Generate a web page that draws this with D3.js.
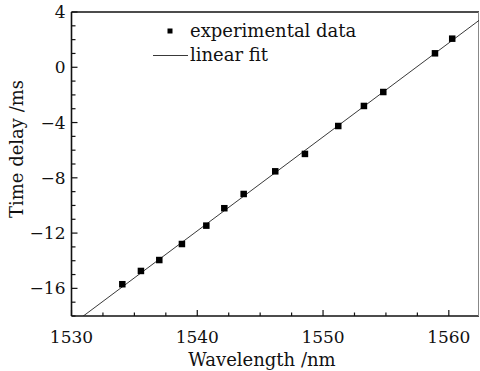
<!DOCTYPE html>
<html>
<head>
<meta charset="utf-8">
<script src="https://cdn.jsdelivr.net/npm/d3@7"></script>
<style>
  html, body { margin: 0; padding: 0; background: #fff; }
  svg { display: block; font-family: "DejaVu Serif", serif; }
  .tick-label { font-size: 17px; fill: #111; }
  .axis-title { font-size: 18px; fill: #111; }
  .legend-text { font-size: 18px; fill: #111; }
</style>
</head>
<body>
<div id="chart"></div>
<script>
// ----------------------------------------------------------
// Data
// ----------------------------------------------------------
const wavelengths = [1534.04, 1535.52, 1536.98, 1538.78, 1540.72, 1542.15, 1543.69,
  1546.20, 1548.56, 1551.21, 1553.25, 1554.79, 1558.90, 1560.27];
const delays = [-15.70, -14.74, -13.95, -12.79, -11.46, -10.20, -9.17,
  -7.53, -6.27, -4.25, -2.80, -1.79, 1.01, 2.07];

// linear fit: delay = fitSlope * (wavelength - 1530) + fitOffset
const fitSlope = 0.68;
const fitOffset = -18.64;

const xTicks = [1530, 1540, 1550, 1560];
const yTicks = [-16, -12, -8, -4, 0, 4];
const xDomain = [1530, 1562.4];
const yDomain = [-18, 4];

// ----------------------------------------------------------
// Layout
// ----------------------------------------------------------
const width = 480;
const height = 371;
const margin = { top: 12, right: 1, bottom: 55, left: 71.5 };

const svg = d3.select('#chart')
  .append('svg')
  .attr('width', width)
  .attr('height', height);

const x = d3.scaleLinear().domain(xDomain).range([margin.left, width - margin.right]);
const y = d3.scaleLinear().domain(yDomain).range([height - margin.bottom, margin.top]);

const x0 = x.range()[0], x1 = x.range()[1];
const y0 = y.range()[0], y1 = y.range()[1];

svg.append('defs').append('clipPath').attr('id', 'plot-clip')
  .append('rect')
  .attr('x', x0).attr('y', y1)
  .attr('width', x1 - x0).attr('height', y0 - y1);

// ----------------------------------------------------------
// Frame + ticks (inward)
// ----------------------------------------------------------
const frame = svg.append('g').attr('stroke', '#111').attr('fill', 'none');
frame.append('line').attr('x1', x0).attr('x2', x1).attr('y1', y0).attr('y2', y0).attr('stroke-width', 1.6);
frame.append('line').attr('x1', x0).attr('x2', x0).attr('y1', y0).attr('y2', y1).attr('stroke-width', 1.6);
frame.append('line').attr('x1', x0).attr('x2', x1).attr('y1', y1).attr('y2', y1).attr('stroke-width', 1.6);
frame.append('line').attr('x1', x1 - 0.5).attr('x2', x1 - 0.5).attr('y1', y0).attr('y2', y1)
  .attr('stroke-width', 1).attr('stroke', '#888');

const xMinor = d3.range(xDomain[0], xDomain[1], 2.5).filter((v) => !xTicks.includes(v));
const yMinor = d3.range(yDomain[0], yDomain[1], 1).filter((v) => !yTicks.includes(v));

frame.selectAll('.xmaj').data(xTicks).enter().append('line')
  .attr('x1', (d) => x(d)).attr('x2', (d) => x(d))
  .attr('y1', y0).attr('y2', y0 - 6).attr('stroke-width', 1.2);
frame.selectAll('.xmin').data(xMinor).enter().append('line')
  .attr('x1', (d) => x(d)).attr('x2', (d) => x(d))
  .attr('y1', y0).attr('y2', y0 - 3.5).attr('stroke-width', 1.2);
frame.selectAll('.ymaj').data(yTicks).enter().append('line')
  .attr('x1', x0).attr('x2', x0 + 6)
  .attr('y1', (d) => y(d)).attr('y2', (d) => y(d)).attr('stroke-width', 1.2);
frame.selectAll('.ymin').data(yMinor).enter().append('line')
  .attr('x1', x0).attr('x2', x0 + 4)
  .attr('y1', (d) => y(d)).attr('y2', (d) => y(d)).attr('stroke-width', 1.2);

// Tick labels
svg.selectAll('.xlab').data(xTicks).enter().append('text')
  .attr('class', 'tick-label')
  .attr('x', (d) => x(d))
  .attr('y', y0 + 27)
  .attr('text-anchor', 'middle')
  .text((d) => d);

svg.selectAll('.ylab').data(yTicks).enter().append('text')
  .attr('class', 'tick-label')
  .attr('x', x0 - 6)
  .attr('y', (d) => y(d))
  .attr('dy', '0.36em')
  .attr('text-anchor', 'end')
  .text((d) => (d < 0 ? '\u2212' + Math.abs(d) : d));

// Axis titles
svg.append('text')
  .attr('class', 'axis-title')
  .attr('x', 262)
  .attr('y', 366)
  .attr('text-anchor', 'middle')
  .text('Wavelength /nm');

svg.append('text')
  .attr('class', 'axis-title')
  .attr('transform', 'translate(23,149) rotate(-90)')
  .attr('text-anchor', 'middle')
  .text('Time delay /ms');

// ----------------------------------------------------------
// Fit line + data points
// ----------------------------------------------------------
const plot = svg.append('g').attr('clip-path', 'url(#plot-clip)');

plot.append('line')
  .attr('x1', x(xDomain[0]))
  .attr('y1', y(fitSlope * (xDomain[0] - 1530) + fitOffset))
  .attr('x2', x(xDomain[1]))
  .attr('y2', y(fitSlope * (xDomain[1] - 1530) + fitOffset))
  .attr('stroke', '#222')
  .attr('stroke-width', 0.9);

const pts = wavelengths.map((w, i) => ({ w, d: delays[i] }));
const sq = 6.5;
plot.selectAll('.pt').data(pts).enter().append('rect')
  .attr('x', (p) => x(p.w) - sq / 2)
  .attr('y', (p) => y(p.d) - sq / 2)
  .attr('width', sq)
  .attr('height', sq)
  .attr('fill', '#000');

// ----------------------------------------------------------
// Legend
// ----------------------------------------------------------
const legend = svg.append('g');
legend.append('rect')
  .attr('x', 167.5).attr('y', 28.5)
  .attr('width', 5).attr('height', 5)
  .attr('fill', '#000');
legend.append('text')
  .attr('class', 'legend-text')
  .attr('x', 190).attr('y', 37)
  .text('experimental data');
legend.append('line')
  .attr('x1', 153).attr('x2', 188)
  .attr('y1', 55.5).attr('y2', 55.5)
  .attr('stroke', '#222').attr('stroke-width', 0.9);
legend.append('text')
  .attr('class', 'legend-text')
  .attr('x', 190).attr('y', 61)
  .text('linear fit');
</script>
</body>
</html>
